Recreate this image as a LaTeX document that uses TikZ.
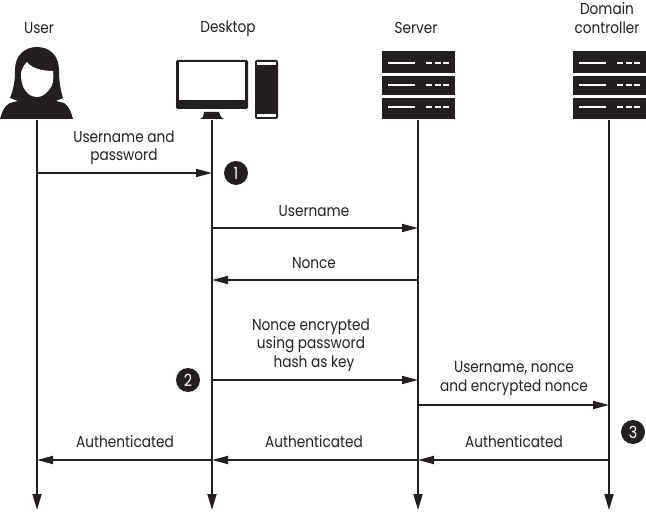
\documentclass[tikz,border=0pt]{standalone}
\usepackage{fontspec}
\setmainfont[FakeStretch=0.865]{Poppins}
\usepackage{xcolor}
\usetikzlibrary{
  arrows.meta,
  positioning
}
\definecolor{AuthInk}{HTML}{231F20}
\tikzset{
  >=Latex,
  every picture/.style = {line join=round},
  every node/.style = {font=\fontsize{9}{10.4}\selectfont, text=AuthInk},
  actor label/.style = {align=center, inner sep=0pt},
  message label/.style = {align=center, inner sep=0pt},
  step mark/.style = {
    circle,
    fill=AuthInk,
    minimum size=4.8mm,
    inner sep=0pt,
    text=white,
    font=\fontsize{9.5}{9.5}\selectfont
  },
  lifeline/.style = {-{Triangle[length=3.2mm,width=1.8mm]}, draw=AuthInk, line width=1.05pt},
  message/.style = {-{Triangle[length=3.2mm,width=1.6mm]}, draw=AuthInk, line width=1pt},
  icon ink/.style = {fill=AuthInk, draw=none},
  icon gap/.style = {fill=white, draw=none},
  rack slot/.style = {draw=white, line width=1pt},
  rack dots/.style = {draw=white, line width=1pt, dash pattern=on 1.2mm off 0.5mm},
}
\newcommand{\RackIcon}[1]{%
  \begin{scope}[shift={#1}]
    \foreach \top/\bot/\mid in {0/22/12,25/44/34,47/68/56} {
      \fill[icon ink] (0,\top) rectangle (73,\bot);
      \draw[rack slot] (6,\mid) -- (33,\mid);
      \draw[rack dots] (44,\mid) -- (67,\mid);
    }
  \end{scope}
}
\begin{document}
\begin{tikzpicture}[x=0.2mm,y=-0.2mm]
  \useasboundingbox (0,0) rectangle (646,512);

  % user
  \fill[icon ink] (10,98) .. controls (14,88) and (15,80) .. (15,70)
    .. controls (15,55) and (25,47) .. (37,47)
    .. controls (49,47) and (59,55) .. (59,70)
    .. controls (59,80) and (60,88) .. (63,98)
    -- (56,101) -- (64,103) .. controls (69,106) and (71,112) .. (73,119)
    -- (0,119) .. controls (2,112) and (4,106) .. (10,103) -- (18,101) -- cycle;
  \fill[icon gap] (21,74) .. controls (21,70) and (24,65) .. (27,62)
    .. controls (31,68) and (42,71) .. (53,71)
    .. controls (54,80) and (53,85) .. (49,90)
    .. controls (45,95) and (41,97) .. (37,97)
    .. controls (33,97) and (28,95) .. (25,90)
    .. controls (22,86) and (21,80) .. (21,74) -- cycle;

  % desktop
  \fill[icon ink, rounded corners=0.3mm] (176,60) rectangle (248,109);
  \fill[icon gap] (179,62) rectangle (245,100);
  \fill[icon ink] (204,112) -- (219,112) -- (221,117) -- (224,119) -- (200,119) -- (203,117) -- cycle;
  \fill[icon ink, rounded corners=0.4mm] (255,60) rectangle (278,119);
  \fill[icon gap] (257,62) rectangle (276,65);
  \fill[icon gap] (257,114) rectangle (276,117);

  \RackIcon{(382,51)}
  \RackIcon{(573,51)}

  \node[actor label] (userlabel) at (39,28.5) {User};
  \node[actor label] (desktoplabel) at (228,28.5) {Desktop};
  \node[actor label] (serverlabel) at (416,28) {Server};
  \node[actor label] (dclabel) at (607,18) {Domain\\controller};

  \foreach \n/\x in {user/37,desktop/212,server/418,dc/609} {
    \coordinate (\n top) at (\x,120);
    \coordinate (\n end) at (\x,510);
    \foreach \r/\y in {a/173,b/228,c/280,d/380,e/405,f/460} {
      \coordinate (\n\r) at (\x,\y);
    }
    \draw[lifeline] (\n top) -- (\n end);
  }

  \draw[message] (usera) -- (desktopa);
  \draw[message] (desktopb) -- (serverb);
  \draw[message] (serverc) -- (desktopc);
  \draw[message] (desktopd) -- (serverd);
  \draw[message] (servere) -- (dce);
  \draw[message] (dcf) -- (serverf);
  \draw[message] (serverf) -- (desktopf);
  \draw[message] (desktopf) -- (userf);

  \node[message label] (credlabel) at (124,148) {Username and\\password};
  \node[message label] (namelabel) at (314,211) {Username};
  \node[message label] (noncelabel) at (314,263) {Nonce};
  \node[message label] (encryptlabel) at (311,345) {Nonce encrypted\\using password\\\hspace*{1.2mm}hash as key};
  \node[message label] (forwardlabel) at (514,378.5) {Username, nonce\\and encrypted nonce};
  \node[message label] (authuser) at (125,441.5) {Authenticated};
  \node[message label] (authdesktop) at (314,441.5) {Authenticated};
  \node[message label] (authserver) at (514,441.5) {Authenticated};

  \node[step mark] (stepone) at (236,173) {1};
  \node[step mark] (steptwo) at (188,380) {2};
  \node[step mark] (stepthree) at (633,432) {3};
\end{tikzpicture}
\end{document}
